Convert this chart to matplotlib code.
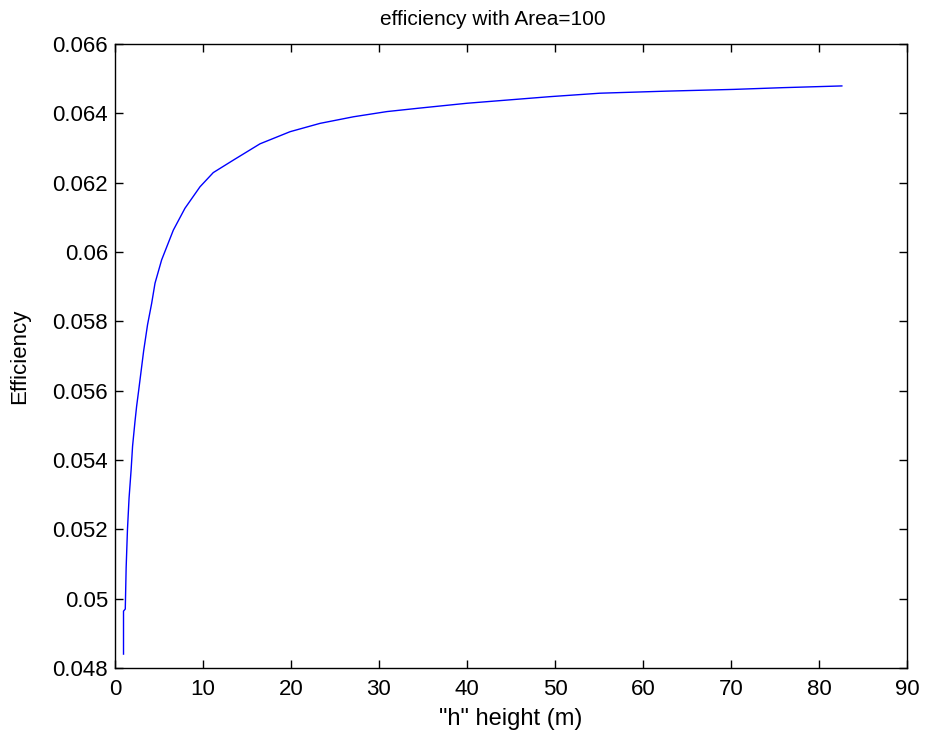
import matplotlib
matplotlib.use("Agg")
import matplotlib.pyplot as plt

# valores
h_height = [0.97, 0.97, 1.17, 1.27, 1.42, 1.6, 1.83, 2.0, 2.27, 2.46, 2.69, 3.26,
            3.7, 4.17, 4.55, 5.3, 6.63, 7.95, 9.66, 11.17, 13.45, 16.48, 19.9,
            23.3, 27.1, 30.9, 34.6, 40.0, 49.4, 55.1, 62.7, 70.3, 75.9, 82.6]
efficiency = [0.0484, 0.04964, 0.0497, 0.0509, 0.0520, 0.0529, 0.0537, 0.0544,
              0.0551, 0.05555, 0.0560, 0.05715, 0.0579, 0.05852, 0.0591, 0.05977,
              0.06063, 0.06126, 0.06188, 0.06229, 0.06265, 0.06312, 0.06347,
              0.06371, 0.06390, 0.06405, 0.06415, 0.06429, 0.06448, 0.06458,
              0.06464, 0.06469, 0.06474, 0.06479]
x_ticks = [0, 10, 20, 30, 40, 50, 60, 70, 80, 90]
y_ticks = [0.048, 0.05, 0.052, 0.054, 0.056, 0.058, 0.06, 0.062, 0.064, 0.066]
y_tick_labels = ['0.048', '0.05', '0.052', '0.054', '0.056', '0.058',
                 '0.06', '0.062', '0.064', '0.066']

plt.rcParams['font.family'] = ['Liberation Sans', 'DejaVu Sans']

fig = plt.figure(figsize=(9.25, 7.38), dpi=100)
ax = fig.add_axes([0.1243, 0.0949, 0.8562, 0.8455])

ax.plot(h_height, efficiency, color='blue', linewidth=1.0)

ax.set_xlim(0, 90)
ax.set_ylim(0.048, 0.066)
ax.set_xticks(x_ticks)
ax.set_yticks(y_ticks)
ax.set_yticklabels(y_tick_labels)
ax.tick_params(direction='in', top=True, right=True, length=6, width=1, labelsize=16)
ax.tick_params(axis='x', pad=8)
ax.tick_params(axis='y', pad=5)
for s in ax.spines.values():
    s.set_linewidth(1)

ax.set_title('efficiency with Area=100', fontsize=15, pad=14)
ax.title.set_x(0.477)
ax.set_xlabel('"h" height (m)', fontsize=17, labelpad=6)
ax.set_ylabel('Efficiency', fontsize=16, labelpad=16)

fig.savefig('out.png', dpi=100)
